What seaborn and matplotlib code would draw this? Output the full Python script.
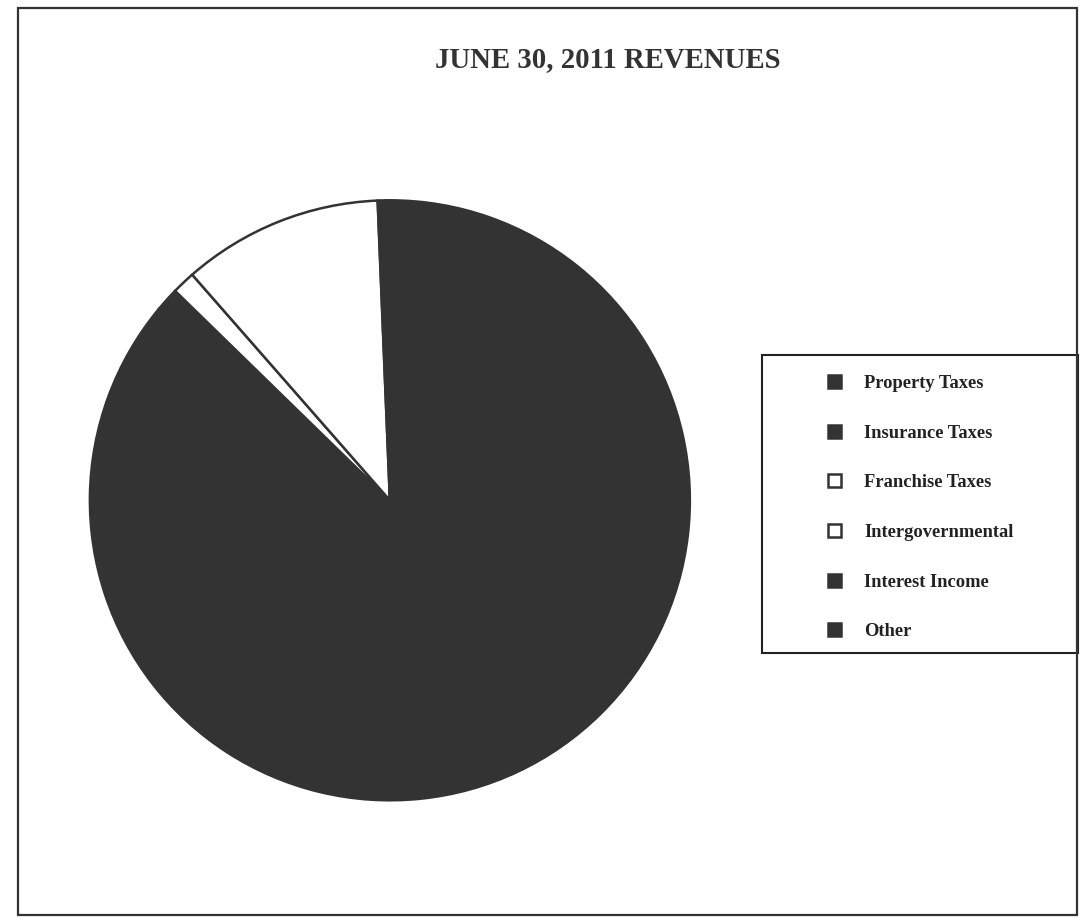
import matplotlib
matplotlib.use("Agg")
import matplotlib.pyplot as plt
from matplotlib.patches import Rectangle
import seaborn as sns

categories = ["Property Taxes", "Insurance Taxes", "Franchise Taxes",
              "Intergovernmental", "Interest Income", "Other"]
values = [86.0, 1.3, 1.25, 10.8, 0.4, 0.25]
colors = ["#333333", "#333333", "#ffffff", "#ffffff", "#333333", "#333333"]
title = "JUNE 30, 2011 REVENUES"

sns.set_theme(style="white")
plt.rcParams["font.family"] = ["Liberation Serif", "DejaVu Serif"]

fig = plt.figure(figsize=(10.83, 9.18), dpi=100)
fig.patch.set_facecolor("white")

ax = fig.add_axes([0.083, 0.128, 0.554, 0.654])
wedges, _ = ax.pie(values, colors=colors, startangle=90, counterclock=False,
                   radius=1.0,
                   wedgeprops=dict(edgecolor="#333333", linewidth=1.8))
ax.set_xlim(-1, 1)
ax.set_ylim(-1, 1)
ax.set_aspect("equal")
ax.axis("off")

fig.text(0.561, 0.935, title, ha="center", va="center",
         fontsize=20.7, fontweight="bold", color="#333333")

# legend box frame
fig.add_artist(Rectangle((762 / 1083, 1 - 653 / 918), 316 / 1083, 298 / 918,
                         transform=fig.transFigure, fill=False,
                         edgecolor="#222222", linewidth=1.5))

leg = fig.legend(wedges, categories, loc="upper left",
                 bbox_to_anchor=(0.7645, 0.5917),
                 fontsize=13.3, frameon=False,
                 handlelength=0.7, handleheight=0.7, handletextpad=1.25,
                 labelspacing=1.77, borderpad=0.0, borderaxespad=0.0)
for t in leg.get_texts():
    t.set_fontweight("bold")
    t.set_color("#222222")

fig.add_artist(Rectangle((18 / 1083, 3 / 918), 1059 / 1083, 907 / 918,
                         transform=fig.transFigure, fill=False,
                         edgecolor="#333333", linewidth=1.6))

fig.savefig("out.png", dpi=100, facecolor="white")
